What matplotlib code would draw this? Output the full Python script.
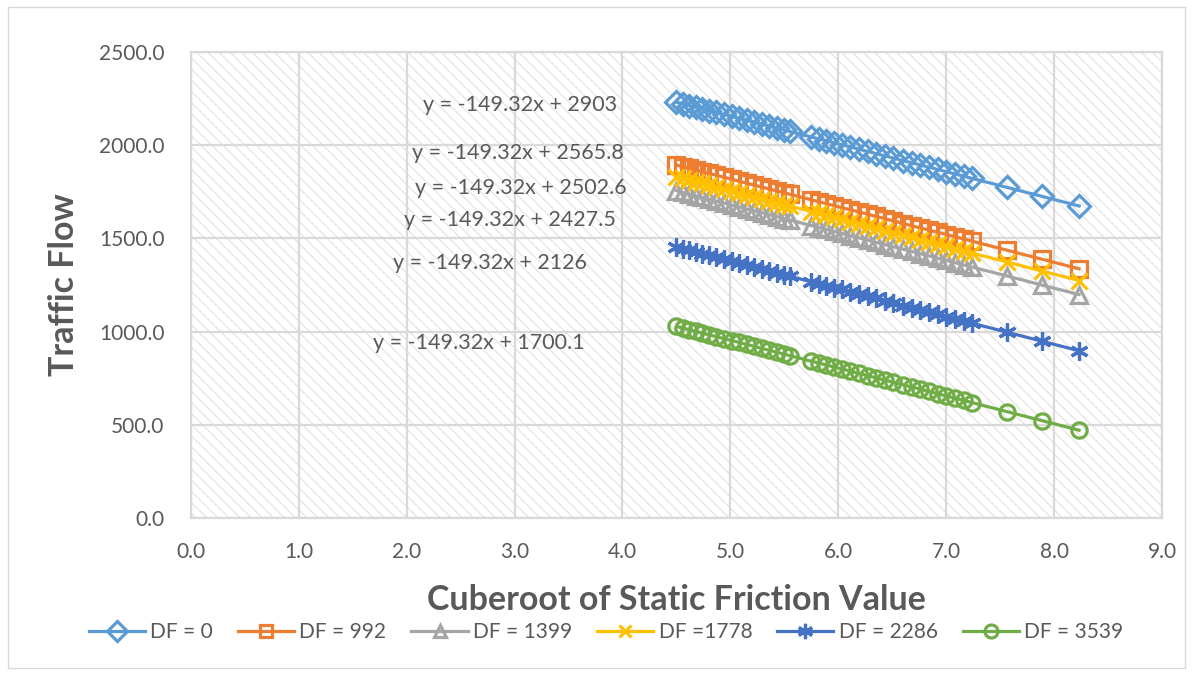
import matplotlib
matplotlib.use("Agg")
import matplotlib.pyplot as plt
from matplotlib.patches import Rectangle

# Data
x_vals = [4.50, 4.56, 4.62, 4.68, 4.74, 4.80, 4.87, 4.94, 5.01, 5.08, 5.15, 5.22, 5.29, 5.36,
          5.43, 5.50, 5.55, 5.75, 5.82, 5.89, 5.96, 6.03, 6.11, 6.19, 6.27, 6.35, 6.43, 6.51,
          6.60, 6.68, 6.76, 6.84, 6.92, 7.00, 7.08, 7.16, 7.24, 7.56, 7.89, 8.23]

df_0 = [2231, 2222, 2213, 2204, 2195, 2186, 2176, 2165, 2155, 2144, 2134, 2124, 2113, 2103,
        2092, 2082, 2074, 2044, 2034, 2024, 2013, 2003, 1991, 1979, 1967, 1955, 1943, 1931,
        1917, 1906, 1894, 1882, 1870, 1858, 1846, 1834, 1822, 1774, 1725, 1674]
df_992 = [1894, 1885, 1876, 1867, 1858, 1849, 1839, 1828, 1818, 1807, 1797, 1786, 1776, 1765,
          1755, 1745, 1737, 1707, 1697, 1686, 1676, 1665, 1654, 1642, 1630, 1618, 1606, 1594,
          1580, 1568, 1556, 1545, 1533, 1521, 1509, 1497, 1485, 1437, 1388, 1337]
df_1399 = [1756, 1747, 1738, 1729, 1720, 1711, 1700, 1690, 1679, 1669, 1658, 1648, 1638, 1627,
           1617, 1606, 1599, 1569, 1558, 1548, 1538, 1527, 1515, 1503, 1491, 1479, 1467, 1455,
           1442, 1430, 1418, 1406, 1394, 1382, 1370, 1358, 1346, 1299, 1249, 1199]
df_1778 = [1831, 1822, 1813, 1804, 1795, 1786, 1775, 1765, 1755, 1744, 1734, 1723, 1713, 1702,
           1692, 1681, 1674, 1644, 1634, 1623, 1613, 1602, 1590, 1578, 1566, 1554, 1542, 1530,
           1517, 1505, 1493, 1481, 1469, 1457, 1445, 1433, 1421, 1374, 1324, 1274]
df_2286 = [1454, 1445, 1436, 1427, 1418, 1409, 1399, 1388, 1378, 1368, 1357, 1346, 1336, 1326,
           1315, 1305, 1297, 1267, 1257, 1246, 1236, 1226, 1214, 1202, 1190, 1178, 1166, 1154,
           1140, 1128, 1117, 1105, 1093, 1081, 1069, 1057, 1045, 997, 948, 897]
df_3539 = [1028, 1019, 1010, 1001, 992, 983, 973, 962, 952, 942, 931, 921, 910, 900,
           889, 879, 871, 841, 831, 821, 810, 800, 788, 776, 764, 752, 740, 728,
           715, 703, 691, 679, 667, 655, 643, 631, 619, 571, 522, 471]

series_labels = ["DF = 0", "DF = 992", "DF = 1399", "DF =1778", "DF = 2286", "DF = 3539"]
equations = ["y = -149.32x + 2903", "y = -149.32x + 2565.8", "y = -149.32x + 2502.6",
             "y = -149.32x + 2427.5", "y = -149.32x + 2126", "y = -149.32x + 1700.1"]
eq_x = [2.15, 2.05, 2.08, 1.98, 1.87, 1.69]
eq_y = [2216, 1958, 1770, 1599, 1368, 939]

series = [df_0, df_992, df_1399, df_1778, df_2286, df_3539]
colors = ["#5B9BD5", "#ED7D31", "#A5A5A5", "#FFC000", "#4472C4", "#70AD47"]
markers = ["D", "s", "^", "x", (6, 2, 0), "o"]
msizes = [11.5, 11, 11, 11, 13, 11]

plt.rcParams['font.family'] = ['Lato', 'DejaVu Sans']
plt.rcParams['hatch.linewidth'] = 0.75
plt.rcParams['hatch.color'] = '#E0E0E0'
TXT = '#595959'
GRID = '#D9D9D9'

fig = plt.figure(figsize=(11.92, 6.73), dpi=100)
fig.patches.append(Rectangle((0.007, 0.008), 0.987, 0.982, transform=fig.transFigure,
                             facecolor='none', edgecolor=GRID, lw=1.0))
ax = fig.add_axes([0.160, 0.2303, 0.815, 0.6924])

# hatched plot area
ax.add_patch(Rectangle((0, 0), 1, 1, transform=ax.transAxes, facecolor='white',
                       edgecolor='#E0E0E0', hatch='\\\\\\', lw=0, zorder=0))

for ys, lab, c, m, ms in zip(series, series_labels, colors, markers, msizes):
    filled = m in ("x", (6, 2, 0))
    ax.plot(x_vals, ys, color=c, lw=2.3, marker=m, markersize=ms,
            markerfacecolor=c if filled else 'none', markeredgecolor=c,
            markeredgewidth=2.3, label=lab, zorder=3)

for txt, ex, ey in zip(equations, eq_x, eq_y):
    ax.text(ex, ey, txt, fontsize=15.5, color=TXT, va='center', ha='left', zorder=5)

ax.set_xlim(0, 9)
ax.set_ylim(0, 2500)
ax.set_xticks(range(0, 10))
ax.set_yticks(range(0, 2501, 500))
ax.xaxis.set_major_formatter(lambda v, p: f"{v:.1f}")
ax.yaxis.set_major_formatter(lambda v, p: f"{v:.1f}")
ax.tick_params(length=0, labelsize=15, labelcolor=TXT)
ax.tick_params(axis='y', pad=19)
ax.tick_params(axis='x', pad=17)
ax.grid(True, color=GRID, lw=1.6)
ax.set_axisbelow(True)
for s in ax.spines.values():
    s.set_color(GRID)
    s.set_linewidth(1.6)

ax.set_ylabel("Traffic Flow", fontsize=24.5, fontweight='bold', color=TXT)
ax.yaxis.set_label_coords(-0.114, 0.5)
ax.set_xlabel("Cuberoot of Static Friction Value", fontsize=24.5, fontweight='bold', color=TXT)
ax.xaxis.set_label_coords(0.5, -0.142)

leg = ax.legend(loc='center', ncol=6, frameon=False, fontsize=15, handlelength=2.7,
                columnspacing=1.2, handletextpad=0.25, labelcolor=TXT, markerscale=0.85)
leg.set_bbox_to_anchor((606 / 1192, 1 - 632 / 673), transform=fig.transFigure)

fig.savefig("out.png", dpi=100)
